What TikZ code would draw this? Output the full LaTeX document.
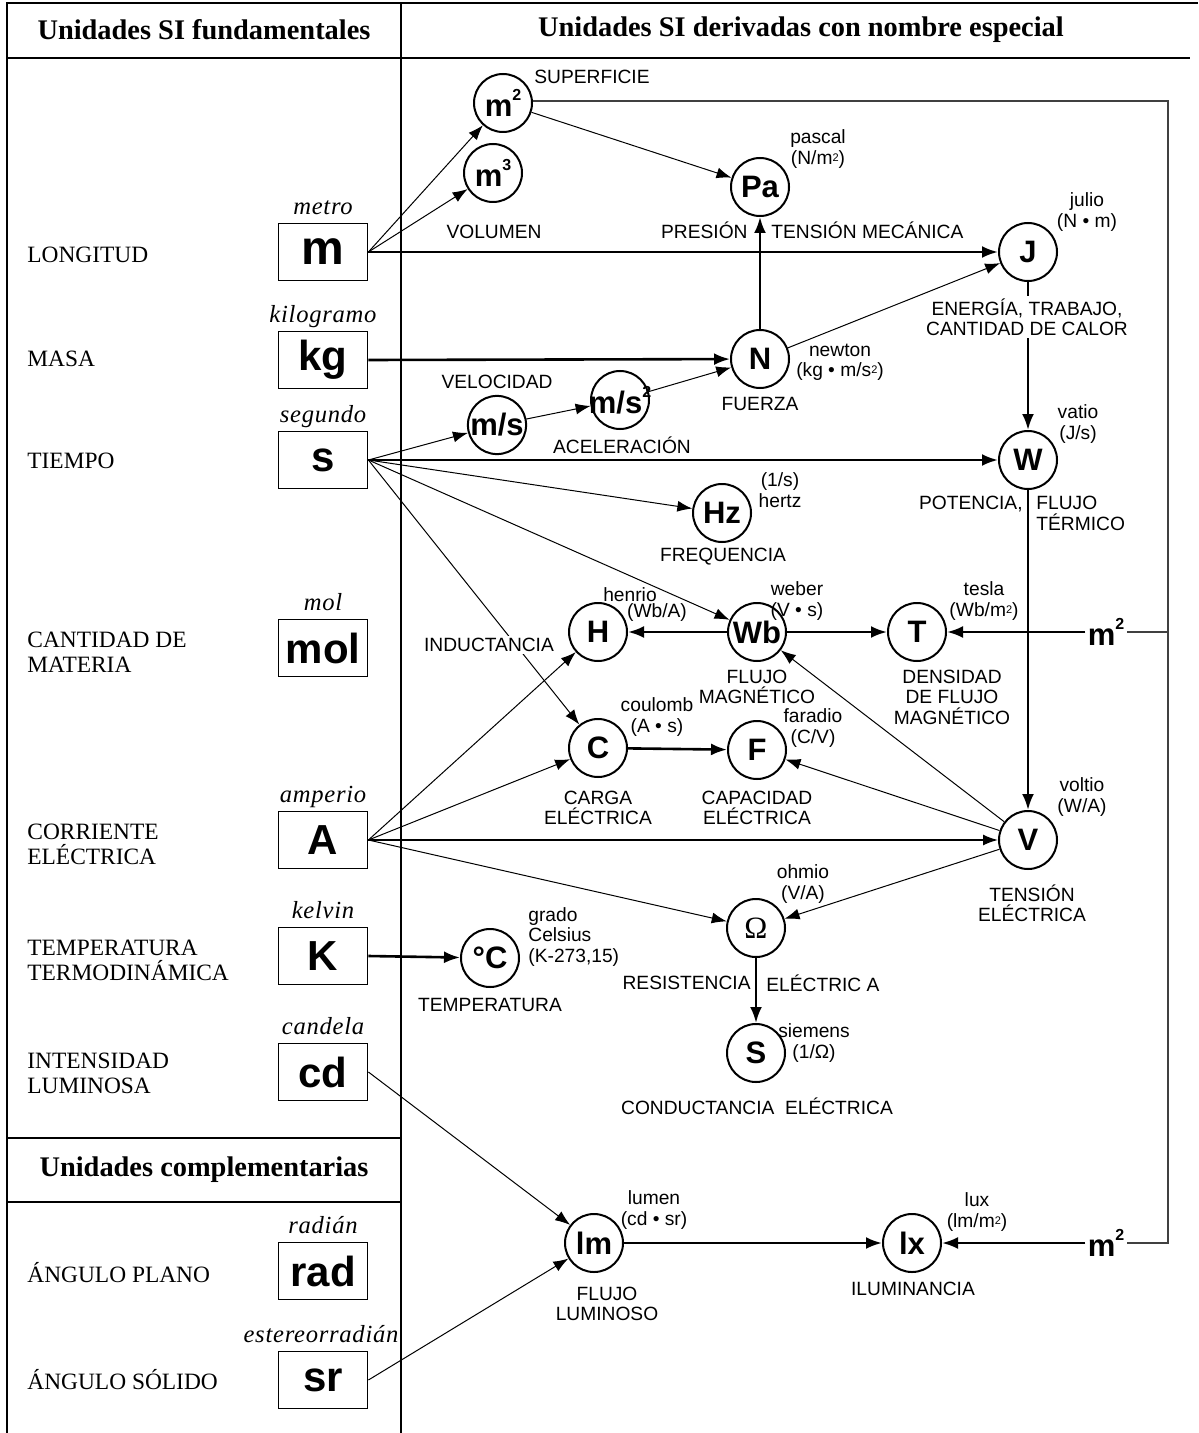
\documentclass[tikz,border=0pt]{standalone}
\usepackage{fontspec}
\setmainfont{Liberation Serif}
\setsansfont{Liberation Sans}
\newfontfamily\namefont[LetterSpace=3]{Liberation Serif}
\usetikzlibrary{arrows.meta}

\newcommand{\usq}[1]{\raisebox{.5em}{\fontsize{8}{8}\selectfont #1}}
\newcommand{\lsq}[1]{\raisebox{.3ex}{\fontsize{5.5}{5.5}\selectfont #1}}

\tikzset{
	base/.style={draw, line width=0.9pt, minimum width=44.5pt, minimum height=28.5pt, inner sep=0pt, font=\sffamily\bfseries\fontsize{21}{21}\selectfont},
	unit/.style={circle, draw, line width=1pt, minimum size=29pt, inner sep=0pt, font=\sffamily\bfseries\fontsize{15.5}{15.5}\selectfont},
	bname/.style={anchor=base, inner sep=0pt, font=\namefont\itshape\fontsize{12.3}{12.3}\selectfont},
	qty/.style={anchor=west, inner sep=0pt, align=left, font=\rmfamily\fontsize{11.7}{12.5}\selectfont},
	head/.style={inner sep=0pt, font=\rmfamily\bfseries\fontsize{14.2}{14.2}\selectfont},
	lbl/.style={inner sep=1pt, align=center, font=\sffamily\fontsize{9.6}{10.2}\selectfont},
	sq/.style={inner sep=1pt, font=\sffamily\bfseries\fontsize{15.5}{15.5}\selectfont},
	frame/.style={line width=0.8pt},
	thinarrow/.style={line width=0.5pt, -{Latex[length=7.5pt,width=5.5pt]}},
	thickarrow/.style={line width=1.3pt, -{Latex[length=8pt,width=6pt]}},
	backline/.style={line width=0.6pt, black!75},
}

\begin{document}
\begin{tikzpicture}[x=0.5pt,y=-0.5pt]
	\useasboundingbox (0,0) rectangle (1198,1433);
	
	\draw[frame] (7,1433) -- (7,3) -- (1198,3);
	\draw[frame] (7,58) -- (1190,58);
	\draw[frame] (401,3) -- (401,1433);
	\draw[frame] (7,1138) -- (401,1138);
	\draw[frame] (7,1202) -- (401,1202);
	
	\node[head] (h1) at (204,30) {Unidades SI fundamentales};
	\node[head] (h2) at (801,30) {Unidades SI derivadas con nombre especial};
	\node[head] (h3) at (204,1170) {Unidades complementarias};
	
	\node[qty] (q-m) at (27,255) {LONGITUD};
	\node[qty] (q-kg) at (27,359) {MASA};
	\node[qty] (q-s) at (27,461) {TIEMPO};
	\node[qty] (q-mol) at (27,652) {CANTIDAD DE\\MATERIA};
	\node[qty] (q-A) at (27,844) {CORRIENTE\\ELÉCTRICA};
	\node[qty] (q-K) at (27,960) {TEMPERATURA\\TERMODINÁMICA};
	\node[qty] (q-cd) at (27,1073) {INTENSIDAD\\LUMINOSA};
	\node[qty] (q-rad) at (27,1273) {ÁNGULO PLANO};
	\node[qty] (q-sr) at (27,1380) {ÁNGULO SÓLIDO};
	
	\node[base, font=\sffamily\bfseries\fontsize{24}{24}\selectfont] (m) at (323,252) {m};
	\node[base] (kg) at (323,360) {kg};
	\node[base] (s) at (323,460) {s};
	\node[base] (mol) at (323,648) {mol};
	\node[base] (A) at (323,840) {A};
	\node[base] (K) at (323,956) {K};
	\node[base] (cd) at (323,1072) {cd};
	\node[base] (rad) at (323,1271) {rad};
	\node[base] (sr) at (323,1380) {sr};
	
	\node[bname] (m-n) at (323,214.5) {metro};
	\node[bname] (kg-n) at (323,322.5) {kilogramo};
	\node[bname] (s-n) at (323,422.5) {segundo};
	\node[bname] (mol-n) at (323,610.5) {mol};
	\node[bname] (A-n) at (323,802.5) {amperio};
	\node[bname] (K-n) at (323,918.5) {kelvin};
	\node[bname] (cd-n) at (323,1034.5) {candela};
	\node[bname] (rad-n) at (323,1233.5) {radián};
	\node[bname] (sr-n) at (321,1342.5) {estereorradián};
	
	\node[unit] (m2) at (503,103) {m\usq{2}};
	\node[unit] (m3) at (493,173) {m\usq{3}};
	\node[unit] (Pa) at (760,187) {Pa};
	\node[unit] (J) at (1028,252) {J};
	\node[unit] (N) at (760,359) {N};
	\node[unit] (ms) at (497,425) {m/s};
	\node[unit] (mss) at (620,400) {\makebox[0pt]{m/s\usq{2}}};
	\node[unit] (Hz) at (722,513) {Hz};
	\node[unit] (W) at (1028,460) {W};
	\node[unit] (H) at (598,632) {H};
	\node[unit] (Wb) at (757,632) {Wb};
	\node[unit] (T) at (917,632) {T};
	\node[unit] (C) at (598,748) {C};
	\node[unit] (F) at (757,750) {F};
	\node[unit] (V) at (1028,840) {V};
	\node[unit] (Om) at (756,928) {\rmfamily\mdseries Ω};
	\node[unit] (degC) at (490,958) {°C};
	\node[unit] (S) at (756,1053) {S};
	\node[unit] (lm) at (594,1243) {lm};
	\node[unit] (lx) at (912,1243) {lx};
	
	\node[sq] (mT) at (1106,632) {m\usq{2}};
	\node[sq] (mL) at (1106,1243) {m\usq{2}};
	\coordinate (r1) at (1168,101);
	\coordinate (r2) at (1168,632);
	\coordinate (r3) at (1168,1243);
	\draw[backline] (m2.east |- r1) -- (r1) -- (r3) -- (mL.east);
	\draw[backline] (r2) -- (mT.east);
	
	\draw[thinarrow] (m.east) -- (m2);
	\draw[thinarrow] (m.east) -- (m3);
	\draw[thickarrow] (m.east) -- (J);
	\draw[thickarrow] (kg.east) -- (N);
	\draw[thickarrow] (s.east) -- (W);
	\draw[thinarrow] (s.east) -- (ms);
	\draw[thinarrow] (s.east) -- (Hz);
	\draw[thinarrow] (s.east) -- (Wb);
	\draw[thinarrow] (s.east) -- (C);
	\draw[thinarrow] (ms) -- (mss);
	\draw[thinarrow] (mss) -- (N);
	\draw[thinarrow] (m2) -- (Pa);
	\draw[thickarrow] (N) -- (Pa);
	\draw[thinarrow] (N) -- (J);
	\draw[thickarrow] (J) -- (W);
	\draw[thickarrow] (W) -- (V);
	\draw[thickarrow] (Wb) -- (H);
	\draw[thickarrow] (Wb) -- (T);
	\draw[thickarrow] (mT.west) -- (T);
	\draw[thickarrow] (C) -- (F);
	\draw[thinarrow] (V) -- (F);
	\draw[thinarrow] (V) -- (Wb);
	\draw[thinarrow] (V) -- (Om);
	\draw[thinarrow] (A.east) -- (H);
	\draw[thinarrow] (A.east) -- (C);
	\draw[thinarrow, line width=0.8pt] (A.east) -- (V);
	\draw[thinarrow] (A.east) -- (Om);
	\draw[thickarrow] (K.east) -- (degC);
	\draw[thickarrow] (Om) -- (S);
	\draw[thinarrow] (cd.east) -- (lm);
	\draw[thinarrow] (sr.east) -- (lm);
	\draw[thickarrow] (lm) -- (lx);
	\draw[thickarrow] (mL.west) -- (lx);
	
	\node[lbl] (m2-q) at (592,77) {SUPERFICIE};
	\node[lbl] (m3-q) at (494,232) {VOLUMEN};
	\node[lbl] (Pa-u) at (818,149) {pascal\\(N/m\lsq{2})};
	\node[lbl, anchor=east] (Pa-q1) at (750,230) {PRESIÓN};
	\node[lbl, anchor=west] (Pa-q2) at (769,230) {TENSIÓN MECÁNICA};
	\node[lbl] (J-u) at (1087,212) {julio\\(N • m)};
	\node[lbl, fill=white] (J-q) at (1027,317) {ENERGÍA, TRABAJO,\\CANTIDAD DE CALOR};
	\node[lbl] (N-u) at (840,362) {newton\\(kg • m/s\lsq{2})};
	\node[lbl] (N-q) at (760,404) {FUERZA};
	\node[lbl] (ms-q) at (497,382) {VELOCIDAD};
	\node[lbl] (mss-q) at (622,445) {ACELERACIÓN};
	\node[lbl] (Hz-u) at (780,490) {(1/s)\\hertz};
	\node[lbl] (Hz-q) at (723,557) {FREQUENCIA};
	\node[lbl] (W-u) at (1078,424) {vatio\\(J/s)};
	\node[lbl, anchor=east] (W-q1) at (1025,504) {POTENCIA,};
	\node[lbl, anchor=north west, align=left] (W-q2) at (1034,494) {FLUJO\\TÉRMICO};
	\node[lbl] (T-u) at (984,601) {tesla\\(Wb/m\lsq{2})};
	\node[lbl] (T-q) at (952,697) {DENSIDAD\\DE FLUJO\\MAGNÉTICO};
	\node[lbl] (Wb-u) at (797,601) {weber\\(V • s)};
	\node[lbl] (H-u1) at (630,595) {henrio};
	\node[lbl] (H-u2) at (657,613) {(Wb/A)};
	\node[lbl, fill=white] (H-q) at (489,645) {INDUCTANCIA};
	\node[lbl] (Wb-q) at (757,687) {FLUJO\\MAGNÉTICO};
	\node[lbl] (C-u) at (657,717) {coulomb\\(A • s)};
	\node[lbl] (F-u) at (813,728) {faradio\\(C/V)};
	\node[lbl] (C-q) at (598,808) {CARGA\\ELÉCTRICA};
	\node[lbl] (F-q) at (757,808) {CAPACIDAD\\ELÉCTRICA};
	\node[lbl] (V-u) at (1082,797) {voltio\\(W/A)};
	\node[lbl] (V-q) at (1032,903) {TENSIÓN\\ELÉCTRICA};
	\node[lbl] (Om-u) at (803,884) {ohmio\\(V/A)};
	\node[lbl, anchor=east] (Om-q1) at (753,983) {RESISTENCIA};
	\node[lbl, anchor=west] (Om-q2) at (764,983) {ELÉCTRIC A};
	\node[lbl, anchor=west, align=left] (degC-u) at (526,937) {grado\\Celsius\\(K-273,15)};
	\node[lbl] (degC-q) at (490,1005) {TEMPERATURA};
	\node[lbl] (S-u) at (814,1043) {siemens\\(1/Ω)};
	\node[lbl] (S-q) at (757,1106) {CONDUCTANCIA\ \ ELÉCTRICA};
	\node[lbl] (lm-u) at (654,1210) {lumen\\(cd • sr)};
	\node[lbl] (lm-q) at (607,1304) {FLUJO\\LUMINOSO};
	\node[lbl] (lx-u) at (977,1212) {lux\\(lm/m\lsq{2})};
	\node[lbl] (lx-q) at (913,1289) {ILUMINANCIA};
\end{tikzpicture}
\end{document}
